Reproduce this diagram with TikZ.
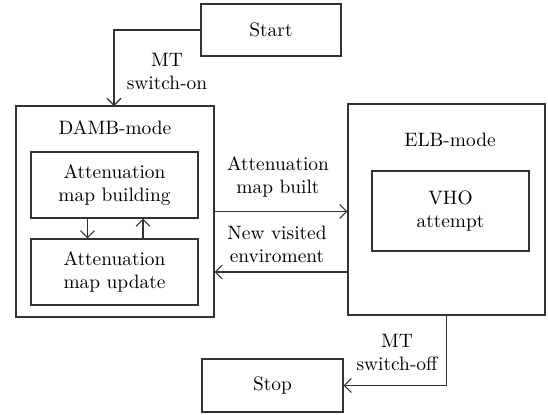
\documentclass[tikz,border=0pt]{standalone}
\usepackage{tikz}
\usetikzlibrary{calc}
\usetikzlibrary{arrows.meta}
\definecolor{linegray}{RGB}{50,50,50}
\tikzset{
    common/.style={draw=linegray, line width=0.55pt, rectangle, align=center, inner sep=0pt},
    terminal/.style={common, minimum width=70pt, minimum height=26pt},
    mode/.style={common, minimum width=99pt, minimum height=105.5pt},
    task/.style={common, minimum width=83.5pt, minimum height=33pt},
    caption/.style={align=center, inner sep=0pt},
    flow/.style={-{Straight Barb[length=3.5pt, width=7pt]}, draw=linegray, line width=0.55pt}
}

\begin{document}
\begin{tikzpicture}[x=0.5pt, y=-0.5pt, font=\fontsize{9.7}{11.5}\selectfont]
      \useasboundingbox (0,0) rectangle (548,414);

      \node[terminal] (start) at (271,30) {Start};
      \node[terminal, minimum width=70.5pt, minimum height=26.5pt] (stop) at (272.5,385.5) {Stop};

      \node[mode] (damb) at (115,211.5) {};
      \node[caption] (damb-title) at (115,128) {DAMB-mode};
      \node[task] (build) at (114.5,185) {Attenuation\\map building};
      \node[task] (update) at (114.5,272) {Attenuation\\map update};

      \node[mode, minimum width=98.5pt] (elb) at (446.5,209.5) {};
      \node[caption] (elb-title) at (450,140) {ELB-mode};
      \node[common, minimum width=78.5pt, minimum height=40pt] (vho) at (450.5,211) {VHO\\attempt};

      \coordinate (damb-in) at (114,106);

      \draw[flow] (start.west) -| (damb-in);
      \draw[flow] ([xshift=-13.5pt]build.south) -- ([xshift=-13.5pt]update.north);
      \draw[flow] ([xshift=14.25pt]update.north) -- ([xshift=14.25pt]build.south);
      \draw[flow] (damb.east) -- (damb.east -| elb.west);
      \draw[flow] (elb.west |- update) -- (damb.east |- update);
      \draw[flow] (elb.south) |- (stop.east);

      \node[caption] (on-label) at (167,71) {MT\\switch-on};
      \node[caption] (built-label) at (278,177) {Attenuation\\map built};
      \node[caption] (new-label) at (277,244) {New visited\\enviroment};
      \node[caption] (off-label) at (397,352) {MT\\switch-off};
    \end{tikzpicture}
\end{document}
